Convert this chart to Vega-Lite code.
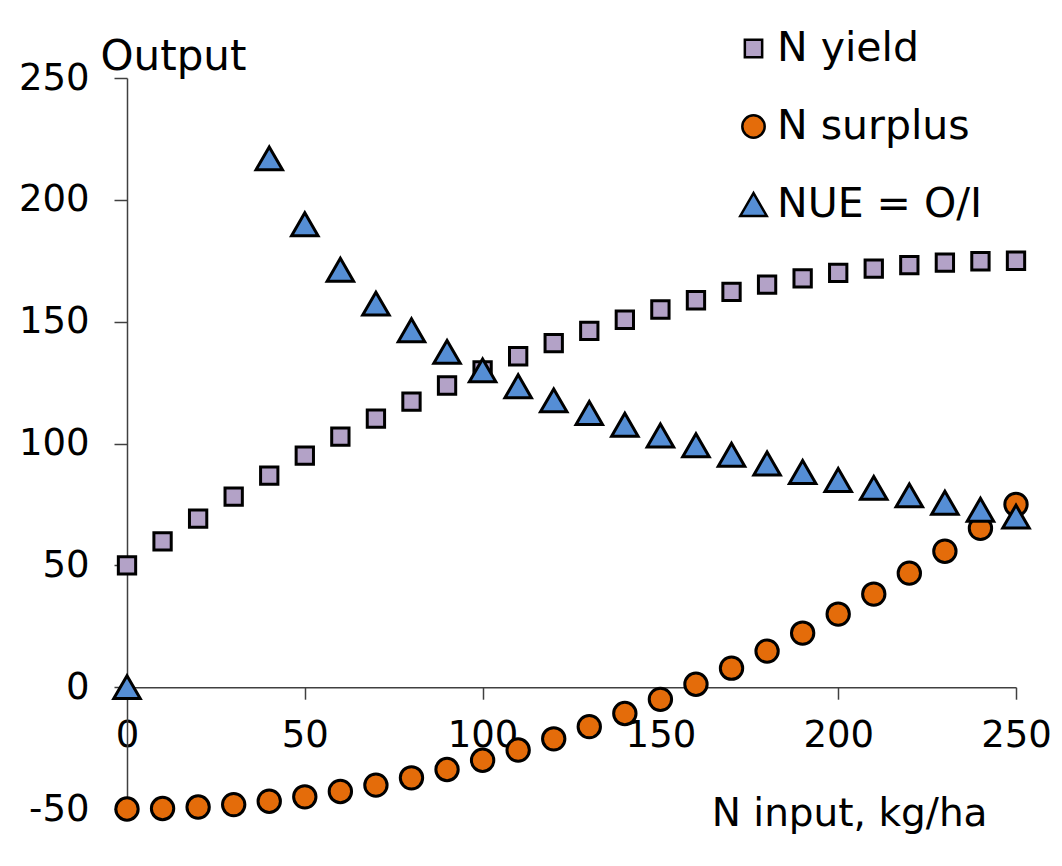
{
  "$schema": "https://vega.github.io/schema/vega-lite/v6.json",
  "autosize": {"type": "none"},
  "padding": {"left": 127, "top": 78, "right": 46, "bottom": 57},
  "width": 889,
  "height": 731,
  "background": "white",
  "config": {
    "view": {"stroke": null},
    "font": "DejaVu Sans",
    "axis": {"grid": false, "labelFont": "DejaVu Sans", "titleFont": "DejaVu Sans", "labelColor": "#000000", "titleColor": "#000000", "titleFontWeight": "normal", "domainColor": "#404040", "tickColor": "#404040", "domainWidth": 1.5, "tickWidth": 1.5}
  },
  "data": {
    "values": [
      {"n": 0, "v": 50, "s": "N yield"},
      {"n": 10, "v": 59.8, "s": "N yield"},
      {"n": 20, "v": 69.2, "s": "N yield"},
      {"n": 30, "v": 78.2, "s": "N yield"},
      {"n": 40, "v": 86.8, "s": "N yield"},
      {"n": 50, "v": 95, "s": "N yield"},
      {"n": 60, "v": 102.8, "s": "N yield"},
      {"n": 70, "v": 110.2, "s": "N yield"},
      {"n": 80, "v": 117.2, "s": "N yield"},
      {"n": 90, "v": 123.8, "s": "N yield"},
      {"n": 100, "v": 130, "s": "N yield"},
      {"n": 110, "v": 135.8, "s": "N yield"},
      {"n": 120, "v": 141.2, "s": "N yield"},
      {"n": 130, "v": 146.2, "s": "N yield"},
      {"n": 140, "v": 150.8, "s": "N yield"},
      {"n": 150, "v": 155, "s": "N yield"},
      {"n": 160, "v": 158.8, "s": "N yield"},
      {"n": 170, "v": 162.2, "s": "N yield"},
      {"n": 180, "v": 165.2, "s": "N yield"},
      {"n": 190, "v": 167.8, "s": "N yield"},
      {"n": 200, "v": 170, "s": "N yield"},
      {"n": 210, "v": 171.8, "s": "N yield"},
      {"n": 220, "v": 173.2, "s": "N yield"},
      {"n": 230, "v": 174.2, "s": "N yield"},
      {"n": 240, "v": 174.8, "s": "N yield"},
      {"n": 250, "v": 175, "s": "N yield"},
      {"n": 0, "v": -50, "s": "N surplus"},
      {"n": 10, "v": -49.8, "s": "N surplus"},
      {"n": 20, "v": -49.2, "s": "N surplus"},
      {"n": 30, "v": -48.2, "s": "N surplus"},
      {"n": 40, "v": -46.8, "s": "N surplus"},
      {"n": 50, "v": -45, "s": "N surplus"},
      {"n": 60, "v": -42.8, "s": "N surplus"},
      {"n": 70, "v": -40.2, "s": "N surplus"},
      {"n": 80, "v": -37.2, "s": "N surplus"},
      {"n": 90, "v": -33.8, "s": "N surplus"},
      {"n": 100, "v": -30, "s": "N surplus"},
      {"n": 110, "v": -25.8, "s": "N surplus"},
      {"n": 120, "v": -21.2, "s": "N surplus"},
      {"n": 130, "v": -16.2, "s": "N surplus"},
      {"n": 140, "v": -10.8, "s": "N surplus"},
      {"n": 150, "v": -5, "s": "N surplus"},
      {"n": 160, "v": 1.2, "s": "N surplus"},
      {"n": 170, "v": 7.8, "s": "N surplus"},
      {"n": 180, "v": 14.8, "s": "N surplus"},
      {"n": 190, "v": 22.2, "s": "N surplus"},
      {"n": 200, "v": 30, "s": "N surplus"},
      {"n": 210, "v": 38.2, "s": "N surplus"},
      {"n": 220, "v": 46.8, "s": "N surplus"},
      {"n": 230, "v": 55.8, "s": "N surplus"},
      {"n": 240, "v": 65.2, "s": "N surplus"},
      {"n": 250, "v": 75, "s": "N surplus"},
      {"n": 0, "v": 0, "s": "NUE = O/I"},
      {"n": 40, "v": 217, "s": "NUE = O/I"},
      {"n": 50, "v": 190, "s": "NUE = O/I"},
      {"n": 60, "v": 171.3, "s": "NUE = O/I"},
      {"n": 70, "v": 157.4, "s": "NUE = O/I"},
      {"n": 80, "v": 146.5, "s": "NUE = O/I"},
      {"n": 90, "v": 137.6, "s": "NUE = O/I"},
      {"n": 100, "v": 130, "s": "NUE = O/I"},
      {"n": 110, "v": 123.5, "s": "NUE = O/I"},
      {"n": 120, "v": 117.7, "s": "NUE = O/I"},
      {"n": 130, "v": 112.5, "s": "NUE = O/I"},
      {"n": 140, "v": 107.7, "s": "NUE = O/I"},
      {"n": 150, "v": 103.3, "s": "NUE = O/I"},
      {"n": 160, "v": 99.3, "s": "NUE = O/I"},
      {"n": 170, "v": 95.4, "s": "NUE = O/I"},
      {"n": 180, "v": 91.8, "s": "NUE = O/I"},
      {"n": 190, "v": 88.3, "s": "NUE = O/I"},
      {"n": 200, "v": 85, "s": "NUE = O/I"},
      {"n": 210, "v": 81.8, "s": "NUE = O/I"},
      {"n": 220, "v": 78.7, "s": "NUE = O/I"},
      {"n": 230, "v": 75.7, "s": "NUE = O/I"},
      {"n": 240, "v": 72.8, "s": "NUE = O/I"},
      {"n": 250, "v": 70, "s": "NUE = O/I"}
    ]
  },
  "mark": {"type": "point", "filled": true, "stroke": "black", "strokeWidth": 3, "opacity": 1, "clip": false},
  "encoding": {
    "x": {
      "field": "n", "type": "quantitative",
      "scale": {"domain": [0, 250], "nice": false, "zero": false},
      "axis": {
        "values": [0, 50, 100, 150, 200, 250],
        "offset": -121.8,
        "tickSize": 12,
        "labelPadding": 18,
        "labelFontSize": 37,
        "labelFlush": false,
        "labelOverlap": false,
        "title": "N input, kg/ha",
        "titleFontSize": 39,
        "titleAnchor": null,
        "titleAlign": "right",
        "titleBaseline": "alphabetic",
        "titleX": 860,
        "titleY": 138
      }
    },
    "y": {
      "field": "v", "type": "quantitative",
      "scale": {"domain": [-50, 250], "nice": false, "zero": false},
      "axis": {
        "values": [-50, 0, 50, 100, 150, 200, 250],
        "labelExpr": "'' + datum.value",
        "tickSize": 13,
        "labelPadding": 25,
        "labelFontSize": 37,
        "labelFlush": false,
        "labelOverlap": false,
        "title": "Output",
        "titleFontSize": 42,
        "titleAngle": 0,
        "titleAnchor": null,
        "titleAlign": "left",
        "titleBaseline": "alphabetic",
        "titleX": -27,
        "titleY": -9
      }
    },
    "fill": {
      "field": "s", "type": "nominal",
      "scale": {"domain": ["N yield", "N surplus", "NUE = O/I"], "range": ["#B3A2C7", "#E46C0A", "#558ED5"]},
      "legend": {
        "orient": "none",
        "legendX": 606,
        "legendY": -50,
        "title": null,
        "padding": 0,
        "labelFont": "DejaVu Sans",
        "labelFontSize": 41,
        "labelColor": "#000000",
        "labelOffset": 3,
        "labelLimit": 0,
        "rowPadding": 36,
        "symbolStrokeColor": "black",
        "symbolStrokeWidth": 2.5,
        "symbolOpacity": 1
      }
    },
    "shape": {
      "field": "s", "type": "nominal",
      "scale": {"domain": ["N yield", "N surplus", "NUE = O/I"], "range": ["square", "circle", "triangle-up"]}
    },
    "size": {
      "field": "s", "type": "nominal",
      "scale": {"domain": ["N yield", "N surplus", "NUE = O/I"], "range": [300, 700, 1090]}
    }
  }
}
